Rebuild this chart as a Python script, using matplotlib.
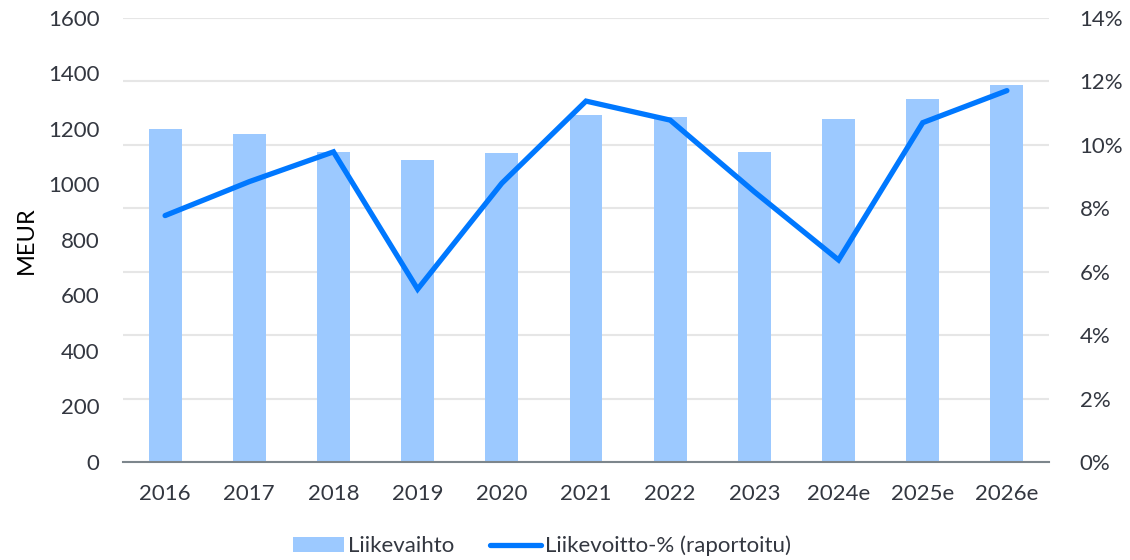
import matplotlib
matplotlib.use("Agg")
import matplotlib.pyplot as plt
from matplotlib.ticker import FuncFormatter, MultipleLocator
from matplotlib.lines import Line2D
from matplotlib.patches import Patch

# Data
years = ["2016", "2017", "2018", "2019", "2020", "2021", "2022", "2023", "2024e", "2025e", "2026e"]
revenue = [1200, 1182, 1116, 1087, 1114, 1252, 1245, 1117, 1235, 1307, 1359]          # MEUR
ebit_margin = [7.77, 8.84, 9.78, 5.45, 8.79, 11.38, 10.78, 8.52, 6.37, 10.70, 11.71]   # %

REV_MAX = 1600
PCT_MAX = 14

bar_color = "#9cc9ff"
line_color = "#0078ff"
text_color = "#333740"
grid_color = "#e6e6e6"
axis_color = "#7d868c"
fs = 16

plt.rcParams["font.family"] = ["Lato", "DejaVu Sans"]
plt.rcParams["font.size"] = fs

fig = plt.figure(figsize=(11.3, 5.6), dpi=100)
ax = fig.add_axes([123 / 1130, 1 - 462 / 560, (1049 - 123) / 1130, (462 - 18) / 560])
ax2 = ax.twinx()

x = list(range(len(years)))

# Horizontal gridlines follow the percentage ticks, drawn behind the bars
for p in range(0, PCT_MAX + 1, 2):
    ax.axhline(p * REV_MAX / PCT_MAX, color=grid_color, lw=1.5, zorder=0)

ax.bar(x, revenue, width=0.39, color=bar_color, zorder=2)
ax.set_ylim(0, REV_MAX)
ax.yaxis.set_major_locator(MultipleLocator(200))
ax.set_xlim(-0.5, len(years) - 0.5)
ax.set_xticks(x)
ax.set_xticklabels(years)
ax.set_ylabel("MEUR", color="black", fontsize=fs + 1, labelpad=8)

ax2.plot(x, ebit_margin, color=line_color, lw=3.8, solid_capstyle="round",
         solid_joinstyle="miter", zorder=3)
ax2.set_ylim(0, PCT_MAX)
ax2.yaxis.set_major_locator(MultipleLocator(2))
ax2.yaxis.set_major_formatter(FuncFormatter(lambda v, p: f"{v:.0f}%"))

for a in (ax, ax2):
    for s in ("top", "left", "right", "bottom"):
        a.spines[s].set_visible(False)
    a.tick_params(length=0, colors=text_color, labelsize=fs)

ax.spines["bottom"].set_visible(True)
ax.spines["bottom"].set_color(axis_color)
ax.spines["bottom"].set_linewidth(1.5)
ax.spines["bottom"].set_zorder(5)
ax.tick_params(axis="y", pad=17)
ax.tick_params(axis="x", pad=16)
ax2.tick_params(axis="y", pad=22)

handles = [Patch(facecolor=bar_color, label="Liikevaihto"),
           Line2D([0], [0], color=line_color, lw=3.8, solid_capstyle="round",
                  label="Liikevoitto-% (raportoitu)")]
fig.legend(handles=handles, loc="center", bbox_to_anchor=(542 / 1130, 1 - 546 / 560),
           ncol=2, frameon=False, fontsize=fs, handlelength=2.3, handleheight=0.65,
           handletextpad=0.2, columnspacing=1.6, labelcolor=text_color)

fig.savefig("out.png", dpi=100)
